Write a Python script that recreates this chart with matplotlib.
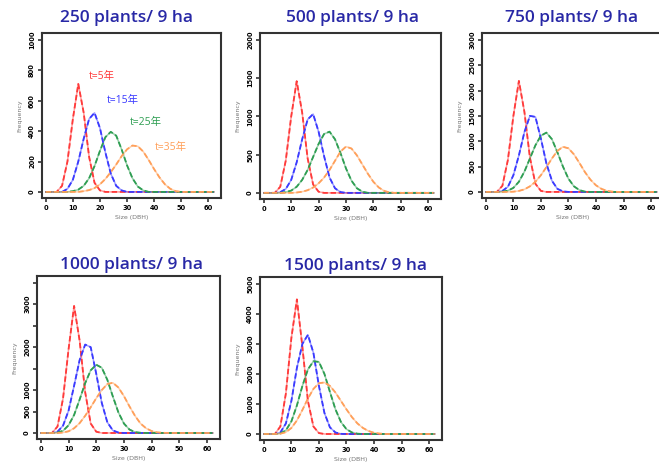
import matplotlib
matplotlib.use("Agg")
import matplotlib.pyplot as plt

# ---------------- data ----------------
size_dbh = [0, 2, 4, 6, 8, 10, 12, 14, 16, 18, 20, 22, 24, 26, 28, 30,
            32, 34, 36, 38, 40, 42, 44, 46, 48, 50, 52, 54, 56, 58, 60, 62]

titles = ["250 plants/ 9 ha", "500 plants/ 9 ha", "750 plants/ 9 ha",
          "1000 plants/ 9 ha", "1500 plants/ 9 ha"]
series_labels = ["t=5年", "t=15年", "t=25年", "t=35年"]

# 250 plants
r250 = [0,0,0,40,200,480,710,520,230,60,10,0,0,0,0,0,0,0,0,0,0,0,0,0,0,0,0,0,0,0,0,0]
b250 = [0,0,0,0,20,80,200,350,480,520,420,260,120,40,10,0,0,0,0,0,0,0,0,0,0,0,0,0,0,0,0,0]
g250 = [0,0,0,0,0,5,15,40,90,170,270,360,395,370,280,175,90,35,10,0,0,0,0,0,0,0,0,0,0,0,0,0]
o250 = [0,0,0,0,0,0,0,5,12,25,50,85,130,180,235,280,305,300,265,210,150,95,50,20,5,0,0,0,0,0,0,0]
# 500 plants
r500 = [0,0,0,80,420,1000,1460,1050,450,110,15,0,0,0,0,0,0,0,0,0,0,0,0,0,0,0,0,0,0,0,0,0]
b500 = [0,0,0,10,50,170,400,700,960,1030,800,480,200,60,10,0,0,0,0,0,0,0,0,0,0,0,0,0,0,0,0,0]
g500 = [0,0,0,0,10,30,80,170,300,470,640,770,800,700,520,320,160,60,15,0,0,0,0,0,0,0,0,0,0,0,0,0]
o500 = [0,0,0,0,0,0,5,15,35,70,125,200,300,420,540,605,580,490,370,250,145,70,25,5,0,0,0,0,0,0,0,0]
# 750 plants
r750 = [0,0,0,120,630,1500,2190,1580,680,160,20,0,0,0,0,0,0,0,0,0,0,0,0,0,0,0,0,0,0,0,0,0]
b750 = [0,0,0,20,100,330,720,1180,1500,1480,1050,560,220,60,10,0,0,0,0,0,0,0,0,0,0,0,0,0,0,0,0,0]
g750 = [0,0,0,5,25,80,200,400,660,920,1110,1170,1040,780,500,260,110,35,5,0,0,0,0,0,0,0,0,0,0,0,0,0]
o750 = [0,0,0,0,0,5,20,50,110,200,330,490,660,810,890,860,740,570,390,240,130,60,20,5,0,0,0,0,0,0,0,0]
# 1000 plants
r1000 = [0,0,0,150,800,1950,2960,2150,950,220,30,0,0,0,0,0,0,0,0,0,0,0,0,0,0,0,0,0,0,0,0,0]
b1000 = [0,0,0,30,170,520,1100,1700,2060,2000,1380,700,250,60,10,0,0,0,0,0,0,0,0,0,0,0,0,0,0,0,0,0]
g1000 = [0,0,0,10,50,180,420,780,1160,1460,1590,1520,1240,850,480,220,80,20,5,0,0,0,0,0,0,0,0,0,0,0,0,0]
o1000 = [0,0,0,0,10,40,110,230,400,600,810,1000,1140,1170,1060,860,620,400,220,110,45,15,5,0,0,0,0,0,0,0,0,0]
# 1500 plants
r1500 = [0,0,0,250,1350,3200,4480,2900,1100,250,30,0,0,0,0,0,0,0,0,0,0,0,0,0,0,0,0,0,0,0,0,0]
b1500 = [0,0,0,50,350,1100,2200,3000,3300,2700,1600,700,220,50,5,0,0,0,0,0,0,0,0,0,0,0,0,0,0,0,0,0]
g1500 = [0,0,0,20,120,420,950,1600,2150,2420,2400,2000,1400,820,400,160,50,10,0,0,0,0,0,0,0,0,0,0,0,0,0,0]
o1500 = [0,0,0,10,60,200,450,800,1180,1500,1690,1715,1600,1380,1100,820,560,350,200,100,40,15,0,0,0,0,0,0,0,0,0,0]

panel_series = [
    [r250, b250, g250, o250],
    [r500, b500, g500, o500],
    [r750, b750, g750, o750],
    [r1000, b1000, g1000, o1000],
    [r1500, b1500, g1500, o1500],
]

x_ticks = [0, 10, 20, 30, 40, 50, 60]
y_ticks = [
    [0, 200, 400, 600, 800, 1000],
    [0, 500, 1000, 1500, 2000],
    [0, 500, 1000, 1500, 2000, 2500, 3000],
    [0, 500, 1000, 1500, 2000, 2500, 3000, 3500],
    [0, 1000, 2000, 3000, 4000, 5000],
]
y_ticklabels = [
    ["0", "200", "400", "600", "800", "1000"],
    ["0", "500", "1000", "1500", "2000"],
    ["0", "500", "1000", "1500", "2000", "2500", "3000"],
    ["0", "500", "1000", "", "2000", "", "3000", ""],
    ["0", "1000", "2000", "3000", "4000", "5000"],
]
y_tops = [1000, 2000, 3000, 3500, 5000]

colors = ["#FF3A3A", "#3A3AFF", "#2E9E52", "#FFA05A"]
title_color = "#2828A6"

# ---------------- layout (pixels) ----------------
W, H = 659, 465
fig = plt.figure(figsize=(W / 100, H / 100), dpi=100)
fig.patch.set_facecolor("white")

boxes = [  # left, right, top, bottom in pixels
    (42, 221, 33, 198),
    (260, 441, 33, 199),
    (482, 664, 33, 198),
    (37, 220, 276, 439),
    (260, 442, 277, 440),
]
title_pos = [(127, 18), (353, 18), (572, 18), (132, 265), (355, 266)]

for i, (l, r, t, b) in enumerate(boxes):
    ax = fig.add_axes([l / W, 1 - b / H, (r - l) / W, (b - t) / H])
    for k, ys in enumerate(panel_series[i]):
        ax.plot(size_dbh, ys, color=colors[k], lw=1.1, alpha=0.5, zorder=2)
        ax.plot(size_dbh, ys, color=colors[k], lw=1.3, ls=(0, (3, 1.5)), zorder=3)
    top = y_tops[i]
    ax.set_ylim(-0.04 * top, top * 1.045)
    ax.set_xlim(-1.4, 64.7)
    ax.set_xticks(x_ticks)
    ax.set_xticklabels([str(v) for v in x_ticks], fontsize=4.8, fontweight="bold")
    ax.set_yticks(y_ticks[i])
    ax.set_yticklabels(y_ticklabels[i], fontsize=4.8, fontweight="bold",
                       rotation=90, va="center")
    ax.tick_params(axis="both", length=3, width=1.1, pad=2, color="#222222")
    for sp in ax.spines.values():
        sp.set_linewidth(1.5)
        sp.set_color("#333333")
    ax.set_xlabel("Size (DBH)", fontsize=4.5, color="#777777", labelpad=3)
    ax.set_ylabel("Frequency", fontsize=4.5, color="#777777", labelpad=5)
    fig.text(title_pos[i][0] / W, 1 - title_pos[i][1] / H, titles[i],
             ha="center", va="center", fontsize=12.5, color=title_color,
             family=["Open Sans", "DejaVu Sans"], fontweight="semibold")

# series labels in first panel
label_pos = [(102, 77), (123, 100), (146, 123), (171, 147)]
for k, (px, py) in enumerate(label_pos):
    fig.text(px / W, 1 - py / H, series_labels[k], ha="center", va="center",
             fontsize=7.5, color=colors[k], fontweight="medium",
             family=["Open Sans", "Noto Sans CJK SC", "DejaVu Sans"])

fig.savefig("out.png", dpi=100, facecolor="white")
